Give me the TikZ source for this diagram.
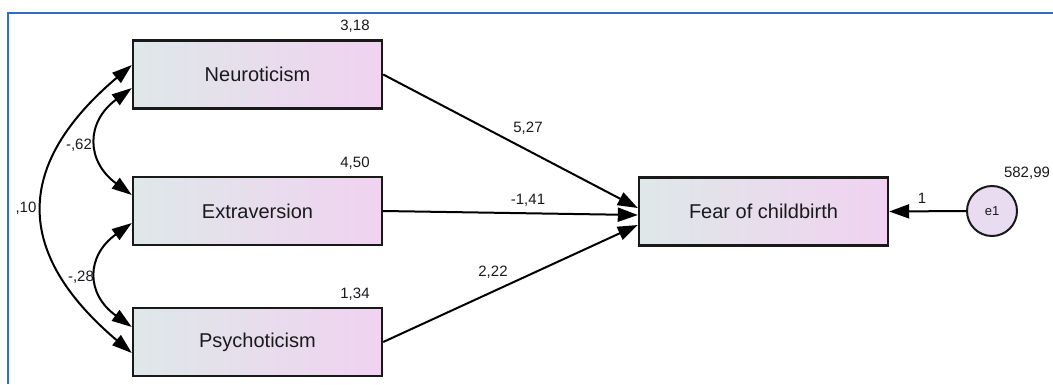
\documentclass[tikz,border=0pt]{standalone}
\usepackage{fontspec}
\setmainfont{Liberation Sans}
\usetikzlibrary{arrows.meta,calc}
\definecolor{frameblue}{RGB}{45,110,205}
\definecolor{boxleft}{RGB}{222,232,233}
\definecolor{boxright}{RGB}{241,210,240}
\definecolor{errfill}{RGB}{234,220,240}
\definecolor{inktext}{RGB}{25,25,30}
\tikzset{
  varbox/.style={draw=black!90, line width=2.4pt, minimum width=249pt, minimum height=68pt,
    inner sep=0pt, shading=axis, left color=boxleft, right color=boxright,
    font=\fontsize{20}{22}\selectfont, text=inktext},
  errnode/.style={circle, draw=black!90, line width=2pt, minimum size=50pt, inner sep=0pt,
    fill=errfill, font=\fontsize{13}{15}\selectfont, text=inktext},
  est/.style={inner sep=0pt, font=\fontsize{15}{17}\selectfont, text=inktext},
  path/.style={line width=2pt, -{Triangle[length=20pt,width=14pt]}},
  covar/.style={line width=2pt, {Triangle[length=20pt,width=13pt]}-{Triangle[length=20pt,width=13pt]}},
}
\begin{document}
\begin{tikzpicture}[x=1pt,y=-1pt]
  \useasboundingbox (0,0) rectangle (1053,384);
  % outer frame
  \draw[frameblue, line width=2pt] (8,384) -- (8,13) -- (1053,13);

  % observed variables
  \node[varbox] (neu) at (257.5,74.5) {Neuroticism};
  \node[varbox] (ext) at (257.5,211) {Extraversion};
  \node[varbox] (psy) at (257.5,342) {Psychoticism};
  \node[varbox] (fear) at (763.5,211.5) {Fear of childbirth};
  \node[errnode] (e1) at (992,211) {e1};

  % variance estimates
  \node[est] (vneu) at (355,26) {3,18};
  \node[est] (vext) at (355,163) {4,50};
  \node[est] (vpsy) at (355,294) {1,34};
  \node[est] (ve1) at (1027,173) {582,99};

  % regression paths
  \coordinate (fin1) at ($(fear.west)+(0,-3.5)$);
  \coordinate (fin2) at ($(fear.west)+(0,3.5)$);
  \coordinate (fin3) at ($(fear.west)+(0,13.5)$);
  \draw[path] (neu.east) -- (fin1);
  \draw[path] (ext.east) -- (fin2);
  \draw[path] (psy.east) -- (fin3);
  \draw[path] (e1.west) -- (fear.east);
  \node[est] (bneu) at (528,128) {5,27};
  \node[est] (bext) at (528,200) {-1,41};
  \node[est] (bpsy) at (493,272) {2,22};
  \node[est] (be1) at (922,198) {1};

  % covariances
  \coordinate (neuA) at ($(neu.west)+(0,-9.5)$);
  \coordinate (neuB) at ($(neu.west)+(0,13.5)$);
  \coordinate (extA) at ($(ext.west)+(0,-16)$);
  \coordinate (extB) at ($(ext.west)+(0,12)$);
  \coordinate (psyA) at ($(psy.west)+(0,-15)$);
  \coordinate (psyB) at ($(psy.west)+(0,11)$);
  \draw[covar] (neuB) .. controls ($(neuB)+(-46,34)$) and ($(extA)+(-46,-34)$) .. (extA);
  \draw[covar] (extB) .. controls ($(extB)+(-46,33)$) and ($(psyA)+(-46,-33)$) .. (psyA);
  \draw[covar] (neuA) .. controls ($(neuA)+(-118,100)$) and ($(psyB)+(-118,-100)$) .. (psyB);
  \node[est] (c12) at (79,145) {-,62};
  \node[est] (c23) at (81,277) {-,28};
  \node[est] (c13) at (26,208) {,10};
\end{tikzpicture}
\end{document}
